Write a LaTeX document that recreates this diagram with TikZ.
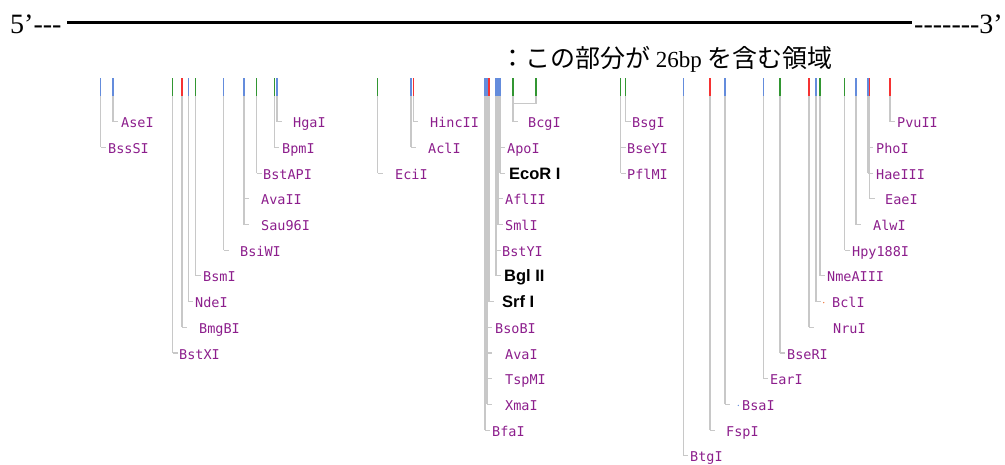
\documentclass[tikz,border=0pt]{standalone}
\usepackage{fontspec}
\setmainfont{Liberation Serif}
\newfontfamily\monof{DejaVu Sans Mono}
\newfontfamily\bsans{Liberation Sans}
\newfontfamily\jpf{Noto Sans CJK JP}
\definecolor{tblue}{RGB}{100,140,220}
\definecolor{tgreen}{RGB}{50,150,50}
\definecolor{tred}{RGB}{245,50,50}
\definecolor{glin}{RGB}{200,200,200}
\definecolor{labpurple}{RGB}{140,30,140}
\definecolor{dotorange}{RGB}{240,120,60}
\tikzset{
  sitetick/.style={line width=1.2pt},
  gline/.style={draw=glin,line width=1.05pt},
  lbl/.style={font=\monof\fontsize{13.5}{14}\selectfont,text=labpurple,inner sep=0pt,anchor=base west},
  blbl/.style={font=\bsans\bfseries\fontsize{16.5}{17}\selectfont,text=black,inner sep=0pt,anchor=base west},
  endtxt/.style={font=\fontsize{28}{30}\selectfont,inner sep=0pt},
}
\newcommand\site[4]{%
  \coordinate (#1t) at (#2,78);
  \coordinate (#1m) at (#2,96);
  \coordinate (#1b) at (#2,{122.7+25.7*#4-1});
  \draw[sitetick,draw=#3] (#1t) -- (#1m);
  \draw[gline] (#1m) -- (#1b);
}
\newcommand\enz[6]{%
  \coordinate (#1s) at (#2,{122.7+25.7*#3-1});
  \node[#5] (#1) at (#4,{122.7+25.7*#3+5}) {#6};
  \draw[gline] (#1s) -- ++(5,0);
}
\begin{document}
\begin{tikzpicture}[x=1pt,y=-1pt]
\useasboundingbox (0,0) rectangle (1005,464);
% main strand
\coordinate (L) at (67,22);
\coordinate (R) at (912,22);
\draw[line width=3pt] (L) -- (R);
\node[endtxt,anchor=base west] (five) at (10,33) {5’-\kern0pt-\kern0pt-};
\node[endtxt,anchor=base east] (three) at (1003,33) {-\kern0pt-\kern0pt-\kern0pt-\kern0pt-\kern0pt-\kern0pt-3’};
\node[inner sep=0pt,anchor=base west] (note) at (500,67.5)
  {\jpf\fontsize{25}{27}\selectfont ：この部分が {\rmfamily\fontsize{23}{25}\selectfont 26bp} を含む領域};
% left group
\site{s1}{100.7}{tblue}{1}   \enz{BssSI}{100.7}{1}{108}{lbl}{BssSI}
\site{s2}{113}{tblue}{0}     \enz{AseI}{113}{0}{121}{lbl}{AseI}
\site{s3}{172.7}{tgreen}{9}  \enz{BstXI}{172.7}{9}{179}{lbl}{BstXI}
\site{s4}{182}{tred}{8}      \enz{BmgBI}{182}{8}{199}{lbl}{BmgBI}
\site{s5}{188.3}{tblue}{7}   \enz{NdeI}{188.3}{7}{195}{lbl}{NdeI}
\site{s6}{195.7}{tgreen}{6}  \enz{BsmI}{195.7}{6}{203}{lbl}{BsmI}
\site{s7}{223.7}{tblue}{5}   \enz{BsiWI}{223.7}{5}{240}{lbl}{BsiWI}
\site{s8}{244}{tblue}{4}     \enz{AvaII}{244}{3}{261}{lbl}{AvaII}
                             \enz{SauI}{244}{4}{261}{lbl}{Sau96I}
\site{s9}{256.7}{tgreen}{2}  \enz{BstAPI}{256.7}{2}{263}{lbl}{BstAPI}
\site{s10}{274.3}{tgreen}{1} \enz{BpmI}{274.3}{1}{282}{lbl}{BpmI}
\site{s11}{277}{tblue}{0}    \enz{HgaI}{277}{0}{293}{lbl}{HgaI}
% middle-left
\site{s12}{377.7}{tgreen}{2} \enz{EciI}{377.7}{2}{395}{lbl}{EciI}
\site{s13}{411}{tblue}{1}    \enz{AclI}{411}{1}{428}{lbl}{AclI}
\site{s14}{413.3}{tred}{0}   \enz{HincII}{413.3}{0}{430}{lbl}{HincII}
% cluster
\site{s15}{485}{tblue}{12}   \enz{BfaI}{485}{12}{492}{lbl}{BfaI}
\site{s16}{487}{tblue}{11}   \enz{BsoBI}{487}{8}{495}{lbl}{BsoBI}
                             \enz{AvaI}{487}{9}{505}{lbl}{AvaI}
                             \enz{TspMI}{487}{10}{505}{lbl}{TspMI}
                             \enz{XmaI}{487}{11}{505}{lbl}{XmaI}
\site{s17}{489}{tred}{7}     \enz{SrfI}{489}{7}{502}{blbl}{Srf I}
\site{s18}{496}{tblue}{6}    \enz{BstYI}{496}{5}{502}{lbl}{BstYI}
                             \enz{BglII}{496}{6}{504}{blbl}{Bgl II}
\site{s19}{498}{tblue}{4}    \enz{AflII}{498}{3}{505}{lbl}{AflII}
                             \enz{SmlI}{498}{4}{505}{lbl}{SmlI}
\site{s20}{500}{tblue}{2}    \enz{ApoI}{500}{1}{507}{lbl}{ApoI}
                             \enz{EcoRI}{500}{2}{509}{blbl}{EcoR I}
% BcgI (two-part site)
\site{s21}{513}{tgreen}{0}   \enz{BcgI}{513}{0}{528}{lbl}{BcgI}
\coordinate (s22t) at (536,78);
\coordinate (s22m) at (536,96);
\coordinate (s22j) at (536,103.3);
\coordinate (s21j) at (513,103.3);
\draw[sitetick,draw=tgreen] (s22t) -- (s22m);
\draw[gline] (s22m) -- (s22j) -- (s21j);
% right group
\site{s23}{620.7}{tgreen}{2} \enz{BseYI}{620.7}{1}{627}{lbl}{BseYI}
                             \enz{PflMI}{620.7}{2}{627}{lbl}{PflMI}
\site{s24}{625.7}{tgreen}{0} \enz{BsgI}{625.7}{0}{632}{lbl}{BsgI}
\site{s25}{683.3}{tblue}{13} \enz{BtgI}{683.3}{13}{690}{lbl}{BtgI}
\site{s26}{710}{tred}{12}    \enz{FspI}{710}{12}{726}{lbl}{FspI}
\site{s27}{725}{tblue}{11}   \enz{BsaI}{725}{11}{742}{lbl}{BsaI}
\site{s28}{763.3}{tblue}{10} \enz{EarI}{763.3}{10}{770}{lbl}{EarI}
\site{s29}{780}{tgreen}{9}   \enz{BseRI}{780}{9}{787}{lbl}{BseRI}
\site{s30}{809}{tred}{8}     \enz{NruI}{809}{8}{833}{lbl}{NruI}
\site{s31}{816}{tblue}{7}    \enz{BclI}{816}{7}{832}{lbl}{BclI}
\site{s32}{820}{tgreen}{6}   \enz{NmeAIII}{820}{6}{827}{lbl}{NmeAIII}
\site{s33}{844.5}{tgreen}{5} \enz{Hpy}{844.5}{5}{852}{lbl}{Hpy188I}
\site{s34}{856}{tblue}{4}    \enz{AlwI}{856}{4}{873}{lbl}{AlwI}
\site{s35}{868}{tblue}{2}    \enz{PhoI}{868}{1}{876}{lbl}{PhoI}
                             \enz{HaeIII}{868}{2}{876}{lbl}{HaeIII}
\site{s36}{869.8}{tred}{3}   \enz{EaeI}{869.8}{3}{885}{lbl}{EaeI}
\site{s37}{890}{tred}{0}     \enz{PvuII}{890}{0}{897}{lbl}{PvuII}
% tiny marks
\fill[tblue] (738.3,{122.7+25.7*11}) circle (0.7);
\fill[dotorange] (823.7,{122.7+25.7*7}) circle (0.7);
\end{tikzpicture}
\end{document}
